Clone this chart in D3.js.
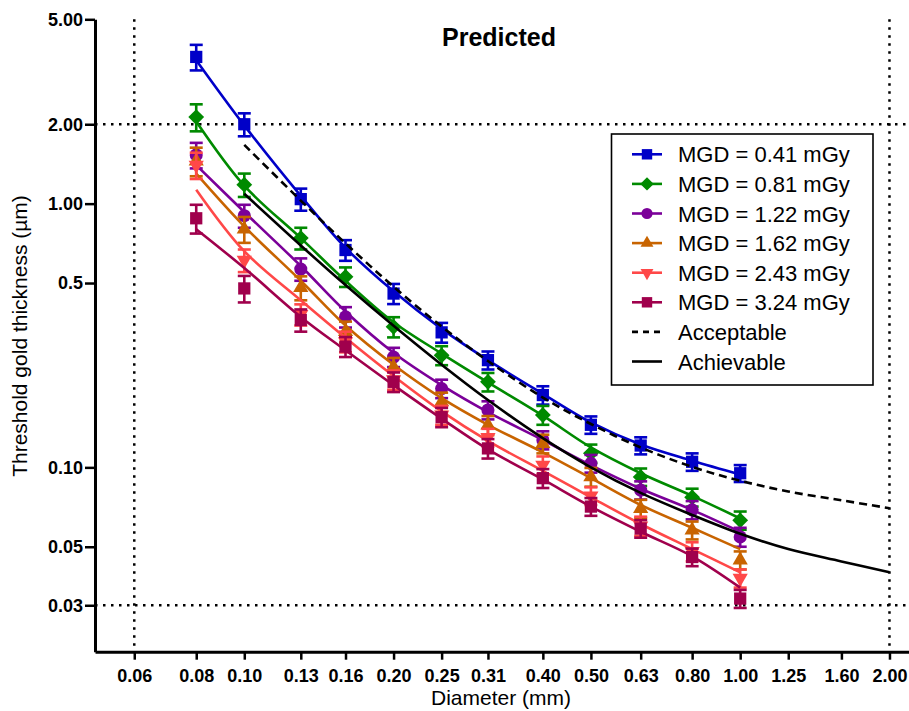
<!DOCTYPE html>
<html>
<head>
<meta charset="utf-8">
<script src="https://cdn.jsdelivr.net/npm/d3@7"></script>
<style>
  html, body { margin: 0; padding: 0; background: #fff; }
  svg { display: block; font-family: "Liberation Sans", Arial, Helvetica, sans-serif; }
</style>
</head>
<body>
<svg id="chart" width="909" height="711"></svg>
<script>
// ---------- data ----------
const diameters = [0.08, 0.10, 0.13, 0.16, 0.20, 0.25, 0.31, 0.40, 0.50, 0.63, 0.80, 1.00];
const seriesNames = ["MGD = 0.41 mGy", "MGD = 0.81 mGy", "MGD = 1.22 mGy", "MGD = 1.62 mGy", "MGD = 2.43 mGy", "MGD = 3.24 mGy"];

const mgd041 = [3.6, 2.0, 1.04, 0.667, 0.456, 0.325, 0.255, 0.188, 0.145, 0.121, 0.105, 0.095];
const mgd081 = [2.13, 1.18, 0.74, 0.528, 0.341, 0.266, 0.211, 0.158, 0.113, 0.092, 0.077, 0.063];
const mgd122 = [1.53, 0.90, 0.565, 0.372, 0.262, 0.199, 0.165, 0.127, 0.1035, 0.082, 0.069, 0.0545];
const mgd162 = [1.45, 0.80, 0.48, 0.327, 0.24, 0.177, 0.1445, 0.123, 0.092, 0.0698, 0.0578, 0.0445];
const mgd243 = [1.40, 0.61, 0.38, 0.30, 0.215, 0.158, 0.13, 0.102, 0.078, 0.06, 0.048, 0.038];
const mgd324 = [0.88, 0.477, 0.362, 0.287, 0.211, 0.155, 0.118, 0.091, 0.071, 0.0586, 0.0457, 0.0318];

const err041 = [0.4, 0.2, 0.1, 0.06, 0.04, 0.028, 0.02, 0.015, 0.011, 0.009, 0.008, 0.007];
const err081 = [0.25, 0.12, 0.07, 0.045, 0.03, 0.022, 0.017, 0.013, 0.009, 0.007, 0.006, 0.005];
const err122 = [0.17, 0.09, 0.055, 0.033, 0.022, 0.016, 0.013, 0.01, 0.008, 0.0065, 0.0055, 0.0045];
const err162 = [0.18, 0.09, 0.05, 0.03, 0.02, 0.015, 0.012, 0.01, 0.0075, 0.0055, 0.0045, 0.0035];
const err243 = [0.16, 0.06, 0.035, 0.027, 0.018, 0.013, 0.01, 0.008, 0.006, 0.005, 0.004, 0.003];
const err324 = [0.11, 0.055, 0.035, 0.025, 0.018, 0.013, 0.01, 0.0075, 0.0055, 0.0045, 0.0035, 0.0025];

const fit041 = [3.5, 1.98, 1.07, 0.68, 0.465, 0.335, 0.255, 0.19, 0.148, 0.122, 0.106, 0.094];
const fit081 = [2.05, 1.17, 0.74, 0.51, 0.355, 0.27, 0.21, 0.157, 0.119, 0.095, 0.078, 0.064];
const fit122 = [1.40, 0.93, 0.58, 0.39, 0.272, 0.205, 0.162, 0.127, 0.102, 0.083, 0.069, 0.057];
const fit162 = [1.30, 0.82, 0.51, 0.345, 0.245, 0.183, 0.145, 0.114, 0.091, 0.072, 0.059, 0.049];
const fit243 = [1.13, 0.66, 0.43, 0.31, 0.222, 0.163, 0.126, 0.097, 0.077, 0.061, 0.049, 0.04];
const fit324 = [0.80, 0.57, 0.372, 0.278, 0.205, 0.153, 0.117, 0.09, 0.071, 0.057, 0.046, 0.035];

const refDiameters = [0.10, 0.13, 0.16, 0.20, 0.25, 0.31, 0.40, 0.50, 0.63, 0.80, 1.00, 1.25, 1.60, 2.00];
const acceptable = [1.67, 1.027, 0.707, 0.484, 0.342, 0.253, 0.184, 0.146, 0.119, 0.1005, 0.089, 0.081, 0.075, 0.070];
const achievable = [1.09, 0.694, 0.491, 0.344, 0.245, 0.18, 0.129, 0.1, 0.08, 0.066, 0.056, 0.049, 0.044, 0.040];

const xTickValues = [0.06, 0.08, 0.10, 0.13, 0.16, 0.20, 0.25, 0.31, 0.40, 0.50, 0.63, 0.80, 1.00, 1.25, 1.60, 2.00];
const xTickLabels = ["0.06", "0.08", "0.10", "0.13", "0.16", "0.20", "0.25", "0.31", "0.40", "0.50", "0.63", "0.80", "1.00", "1.25", "1.60", "2.00"];
const yTickValues = [5, 2, 1, 0.5, 0.1, 0.05, 0.03];
const yTickLabels = ["5.00", "2.00", "1.00", "0.5", "0.10", "0.05", "0.03"];
const refXLines = [0.06, 2.00];
const refYLines = [2.00, 0.03];

// ---------- setup ----------
const colors = ["#0000c8", "#008a00", "#7b0099", "#c86400", "#ff4848", "#a0004c"];
const symbolKinds = ["square", "diamond", "circle", "triangle", "triangleDown", "square"];
const values = [mgd041, mgd081, mgd122, mgd162, mgd243, mgd324];
const errors = [err041, err081, err122, err162, err243, err324];
const fits = [fit041, fit081, fit122, fit162, fit243, fit324];

const svg = d3.select("#chart");
const x = d3.scaleLog().domain([0.05, 2.2]).range([95, 910]);
const y = d3.scaleLog().domain([0.02, 5]).range([651.7, 19.3]);

function symbolPath(kind, scale) {
  scale = scale || 1;
  if (kind === "square") return d3.symbol(d3.symbolSquare, 150 * scale * scale)();
  if (kind === "diamond") return d3.symbol(d3.symbolSquare, 125 * scale * scale)();
  if (kind === "circle") return d3.symbol(d3.symbolCircle, 135 * scale * scale)();
  return d3.symbol(d3.symbolTriangle, 100 * scale * scale)();
}
function symbolRotate(kind) {
  if (kind === "diamond") return 45;
  if (kind === "triangleDown") return 180;
  return 0;
}

// ---------- reference dotted lines ----------
const gRef = svg.append("g");
gRef.selectAll("line.vx").data(refXLines).join("line")
  .attr("x1", d => x(d)).attr("x2", d => x(d))
  .attr("y1", y.range()[1]).attr("y2", y.range()[0])
  .attr("stroke", "#000").attr("stroke-width", 2.5)
  .attr("stroke-dasharray", "2.5 5.5");
gRef.selectAll("line.hy").data(refYLines).join("line")
  .attr("y1", d => y(d)).attr("y2", d => y(d))
  .attr("x1", x.range()[0]).attr("x2", x.range()[1])
  .attr("stroke", "#000").attr("stroke-width", 2.5)
  .attr("stroke-dasharray", "2.5 5.5");

// ---------- axes ----------
const yAxis = d3.axisLeft(y).tickValues(yTickValues)
  .tickFormat((d, i) => yTickLabels[i]).tickSize(10).tickSizeOuter(0).tickPadding(2);
const gy = svg.append("g").attr("transform", "translate(95,0)").call(yAxis);
const xAxis = d3.axisBottom(x).tickValues(xTickValues)
  .tickFormat((d, i) => xTickLabels[i]).tickSize(8).tickSizeOuter(0).tickPadding(10);
const gx = svg.append("g").attr("transform", "translate(0,651.7)").call(xAxis);
[gx, gy].forEach(g => {
  g.select(".domain").attr("stroke", "#000").attr("stroke-width", 3);
  g.selectAll(".tick line").attr("stroke", "#000").attr("stroke-width", 2.5);
  g.selectAll(".tick text").attr("fill", "#000").attr("font-size", 18)
    .attr("font-weight", "bold").attr("font-family", "'Liberation Sans', Arial, sans-serif");
});

// ---------- series ----------
const line = d3.line().x(d => x(d[0])).y(d => y(d[1])).curve(d3.curveCatmullRom.alpha(0.5));

values.forEach((vals, s) => {
  const g = svg.append("g");
  g.append("path")
    .attr("d", line(diameters.map((dx, i) => [dx, fits[s][i]])))
    .attr("fill", "none").attr("stroke", colors[s]).attr("stroke-width", 2.6);
  const pts = diameters.map((dx, i) => ({ x: dx, v: vals[i], e: errors[s][i] }));
  const eb = g.selectAll("g.eb").data(pts).join("g")
    .attr("stroke", colors[s]).attr("stroke-width", 2.6);
  eb.append("line").attr("x1", d => x(d.x)).attr("x2", d => x(d.x))
    .attr("y1", d => y(d.v + d.e)).attr("y2", d => y(d.v - d.e));
  eb.append("line").attr("x1", d => x(d.x) - 6.5).attr("x2", d => x(d.x) + 6.5)
    .attr("y1", d => y(d.v + d.e)).attr("y2", d => y(d.v + d.e));
  eb.append("line").attr("x1", d => x(d.x) - 6.5).attr("x2", d => x(d.x) + 6.5)
    .attr("y1", d => y(d.v - d.e)).attr("y2", d => y(d.v - d.e));
  g.selectAll("path.mk").data(pts).join("path")
    .attr("d", symbolPath(symbolKinds[s]))
    .attr("transform", d => `translate(${x(d.x)},${y(d.v)}) rotate(${symbolRotate(symbolKinds[s])})`)
    .attr("fill", colors[s]);
});

// ---------- acceptable / achievable ----------
svg.append("path")
  .attr("d", line(refDiameters.map((dx, i) => [dx, acceptable[i]])))
  .attr("fill", "none").attr("stroke", "#000").attr("stroke-width", 2.6)
  .attr("stroke-dasharray", "8 5");
svg.append("path")
  .attr("d", line(refDiameters.map((dx, i) => [dx, achievable[i]])))
  .attr("fill", "none").attr("stroke", "#000").attr("stroke-width", 2.6);

// ---------- titles ----------
svg.append("text").attr("x", 499).attr("y", 46).attr("text-anchor", "middle")
  .attr("font-size", 25).attr("font-weight", "bold").text("Predicted");
svg.append("text").attr("x", 501).attr("y", 705).attr("text-anchor", "middle")
  .attr("font-size", 21).text("Diameter (mm)");
svg.append("text").attr("transform", "translate(27,336) rotate(-90)")
  .attr("text-anchor", "middle").attr("font-size", 21).text("Threshold gold thickness (µm)");

// ---------- legend ----------
const legend = svg.append("g");
legend.append("rect").attr("x", 611.5).attr("y", 134).attr("width", 261.5).attr("height", 251)
  .attr("fill", "#fff").attr("stroke", "#000").attr("stroke-width", 1.6);
const legendItems = seriesNames.map((n, i) => ({ name: n, color: colors[i], kind: symbolKinds[i], dash: null }))
  .concat([{ name: "Acceptable", color: "#000", kind: null, dash: "6 5" },
           { name: "Achievable", color: "#000", kind: null, dash: null }]);
const rows = legend.selectAll("g.row").data(legendItems).join("g")
  .attr("transform", (d, i) => `translate(0,${154.3 + i * 29.6})`);
rows.append("line").attr("x1", 632).attr("x2", 662).attr("y1", 0).attr("y2", 0)
  .attr("stroke", d => d.color).attr("stroke-width", 2.6)
  .attr("stroke-dasharray", d => d.dash);
rows.filter(d => d.kind).append("path")
  .attr("d", d => symbolPath(d.kind, 0.85))
  .attr("transform", d => `translate(647,0) rotate(${symbolRotate(d.kind)})`)
  .attr("fill", d => d.color);
rows.append("text").attr("x", 678).attr("y", 8).attr("font-size", 22).text(d => d.name);
</script>
</body>
</html>
